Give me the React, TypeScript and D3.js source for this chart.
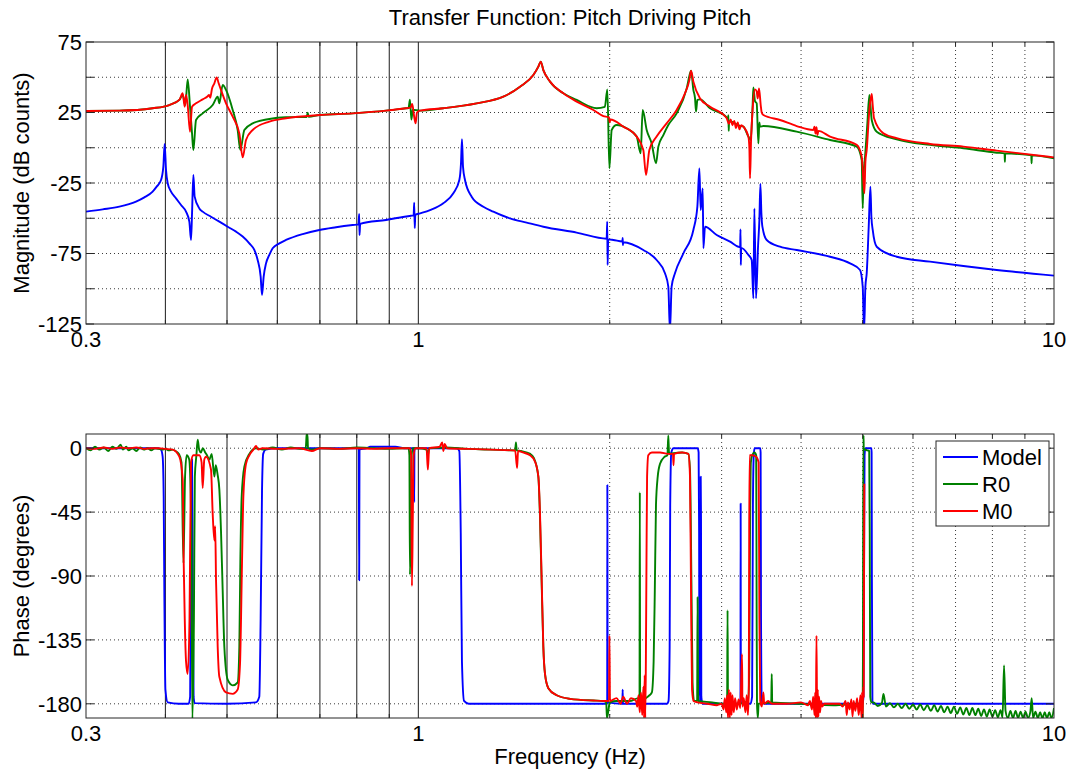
import React from 'react';
import * as d3 from 'd3';

type Pt = [number, number];

const FONT = "'Liberation Sans', Arial, Helvetica, sans-serif";
const W = 1072;
const H = 774;

const TITLE = 'Transfer Function: Pitch Driving Pitch';
const FREQ_DOMAIN: [number, number] = [0.3, 10];
const freqLabels = [0.3, 1, 10];
const solidFreqLines = [0.4, 0.5, 0.6, 0.7, 0.8, 0.9, 1];
const dottedFreqLines = [2, 3, 4, 5, 6, 7, 8, 9];
const minorFreqTicks = [0.4, 0.5, 0.6, 0.7, 0.8, 0.9, 2, 3, 4, 5, 6, 7, 8, 9];

const MAG_DOMAIN: [number, number] = [-125, 75];
const magLabels = [75, 25, -25, -75, -125];
const magGrid = [50, 25, 0, -25, -50, -75, -100];

const PHASE_DOMAIN: [number, number] = [-190, 10];
const phaseLabels = [0, -45, -90, -135, -180];
const phaseGrid = [0, -45, -90, -135, -180];

const seriesNames = ['Model', 'R0', 'M0'];
const seriesColors = ['#0000ff', '#008000', '#ff0000'];

// Magnitude, [Hz, dB counts]
const modelMag: Pt[] = [
  [0.3, -45.3], [0.3187, -43.7], [0.3385, -41.8], [0.3596, -38.2], [0.3706, -35.2], [0.3819, -31.1],
  [0.3875, -27.6], [0.3937, -22.9], [0.397, -13.4], [0.3989, 2.7], [0.4009, -15.8], [0.4033, -25.2],
  [0.4082, -31.1], [0.4157, -35.9], [0.4233, -40.6], [0.431, -45.3], [0.4362, -52.4], [0.4389, -65.4],
  [0.4405, -46.5], [0.4426, -19.3], [0.4447, -34.7], [0.4523, -43], [0.4578, -45.3], [0.4718, -48.9],
  [0.4863, -52.4], [0.5012, -56], [0.5166, -59.5], [0.5292, -63], [0.5421, -67.8], [0.552, -72.5],
  [0.5587, -79.6], [0.5648, -91.4], [0.5676, -104.4], [0.571, -91.4], [0.5759, -82], [0.5828, -76],
  [0.5899, -71.3], [0.6044, -67.8], [0.6191, -65.4], [0.6577, -61.2], [0.6986, -58.3], [0.7421, -56.4],
  [0.7882, -54.8], [0.805, -54.3], [0.807, -47], [0.808, -62], [0.81, -54], [0.8894, -51.2],
  [0.9736, -48.2], [0.983, -48], [0.985, -39], [0.987, -57], [0.989, -47.5], [1.006, -46.5],
  [1.043, -44.2], [1.0946, -39.4], [1.1351, -32.3], [1.16, -22.9], [1.167, -11], [1.1712, 6],
  [1.1755, -13.4], [1.184, -22.9], [1.2129, -34.7], [1.2654, -41.8], [1.3121, -45.3], [1.3937, -50.1],
  [1.4805, -53.1], [1.5726, -56], [1.7744, -60.2], [1.978, -64.5], [1.982, -52.4], [1.985, -83.2],
  [1.989, -65], [2.0265, -65.4], [2.094, -66.5], [2.096, -64], [2.098, -69], [2.1, -67], [2.259, -72.5],
  [2.3705, -79.6], [2.4433, -89], [2.4729, -98.5], [2.4878, -130], [2.5028, -98.5], [2.5333, -89],
  [2.6112, -75], [2.708, -58.3], [2.7475, -41.8], [2.7675, -14.6], [2.7809, -44.2], [2.8011, -28.8],
  [2.8079, -71.3], [2.8248, -56], [2.9469, -61.9], [3.0927, -66.6], [3.1873, -70.2], [3.208, -70.5],
  [3.212, -57.9], [3.216, -83.2], [3.22, -71], [3.3052, -76], [3.3451, -79.6], [3.3655, -106.8],
  [3.3776, -43], [3.398, -106.8], [3.4227, -70.2], [3.4394, -51.2], [3.4521, -25.7], [3.4647, -46.5],
  [3.4772, -56], [3.5319, -65.4], [3.7066, -70.2], [3.9373, -72.5], [4.443, -77.3], [4.777, -82],
  [4.953, -86.7], [5.0012, -98.5], [5.0253, -130], [5.0497, -98.5], [5.0742, -89], [5.111, -56],
  [5.142, -27.6], [5.1607, -48.9], [5.1858, -58.3], [5.2613, -70.2], [5.6566, -77.3], [6.3824, -80.8],
  [7.2013, -83.9], [8.1254, -86.7], [10, -90.7],
];

const r0Mag: Pt[] = [
  [0.3, 26.1], [0.3385, 26.3], [0.3819, 28], [0.4057, 30.3], [0.4207, 33.9], [0.4258, 37.4],
  [0.4299, 30.3], [0.4336, 48.5], [0.4373, 29.1], [0.4405, 10], [0.4426, -1.6], [0.4469, 19.7],
  [0.4578, 24.4], [0.4747, 30.3], [0.4834, 36.2], [0.4863, 31.5], [0.4922, 44.5], [0.4982, 41],
  [0.5104, 26.8], [0.5197, 12.6], [0.5247, -1.6], [0.5324, 12.6], [0.5487, 17.3], [0.5828, 20.4],
  [0.6191, 21.6], [0.6673, 21.8], [0.6697, 24.8], [0.672, 22], [0.6986, 23.2], [0.7882, 24.4],
  [0.8894, 26.3], [0.9561, 28], [0.965, 28.2], [0.97, 34], [0.975, 20], [0.98, 27], [1.006, 26.3],
  [1.0946, 28], [1.2351, 31.5], [1.3605, 36.2], [1.4452, 43.3], [1.5167, 51.6], [1.5444, 57.5],
  [1.5575, 61.1], [1.5726, 55.1], [1.6111, 46.9], [1.6908, 38.6], [1.7744, 33.9], [1.9077, 28],
  [1.965, 29], [1.983, 41.4], [1.9975, -14.6], [2.0144, 12.6], [2.0512, 16.1], [2.1268, 13.8],
  [2.2052, 7.9], [2.2374, -4], [2.2536, 26.8], [2.2866, 12.6], [2.3283, 3.1], [2.3653, -11],
  [2.3854, 0.8], [2.4289, 9], [2.4729, 16.1], [2.5489, 24.4], [2.6434, 42.1], [2.6755, 52.8],
  [2.6853, 54.6], [2.708, 41], [2.7244, 35], [2.7343, 25.6], [2.7475, 33.9], [2.7742, 34.3],
  [2.8764, 28], [3.0555, 21.6], [3.07, 20], [3.074, 23], [3.078, 12], [3.082, 19], [3.2061, 15.5],
  [3.2458, 15], [3.3052, 7.9], [3.3333, 5.5], [3.3492, 20], [3.3573, 31.5], [3.3655, 42.8],
  [3.3856, 33], [3.4062, 31.5], [3.4268, 3.1], [3.4394, 18], [3.4477, 15], [3.4895, 15.4],
  [3.9373, 11.4], [4.443, 5.5], [4.8936, 0.8], [4.983, -8.7], [5.0012, -43], [5.015, -20],
  [5.0436, -6.3], [5.0862, 17.3], [5.1233, 37.4], [5.167, 19.7], [5.2613, 11.4], [5.6566, 6],
  [6.3824, 2], [7.2013, -0.4], [8.1254, -3.5], [8.36, -4], [8.37, -10], [8.38, -4], [9.1693, -5.2],
  [9.21, -5.3], [9.22, -11], [9.23, -5.4], [10, -7.5],
];

const m0Mag: Pt[] = [
  [0.3, 26.1], [0.3385, 26.3], [0.3819, 28], [0.4057, 30.3], [0.4207, 33.9], [0.4258, 38.6],
  [0.4289, 29.1], [0.431, 37.4], [0.4336, 30.3], [0.4373, 11.4], [0.4405, 29.1], [0.4469, 31.5],
  [0.4578, 34.3], [0.4662, 36.5], [0.4685, 37.5], [0.4705, 35.5], [0.4736, 42.1], [0.4776, 45.7],
  [0.4816, 49.9], [0.4851, 45.7], [0.4892, 41], [0.4982, 31.5], [0.5104, 22], [0.5228, 10.2],
  [0.5292, -6.8], [0.5356, 5.5], [0.5487, 12.6], [0.5828, 18.5], [0.6191, 20.9], [0.6986, 23.2],
  [0.7882, 24.4], [0.8894, 26.3], [0.9561, 28], [0.972, 28.5], [0.978, 31], [0.985, 22], [0.99, 17.3],
  [0.995, 25], [1.006, 26.3], [1.0946, 28], [1.2351, 31.5], [1.3605, 36.2], [1.4452, 43.3],
  [1.5167, 51.6], [1.5444, 57.5], [1.5575, 61.1], [1.5726, 55.1], [1.6111, 46.9], [1.6908, 38.6],
  [1.7744, 32.7], [1.8849, 26.8], [1.9546, 22.5], [1.995, 21.5], [2.0, 18], [2.005, 20], [2.1013, 15],
  [2.2052, 7.9], [2.259, -1.6], [2.2811, -19.3], [2.3088, -1.6], [2.3705, 7.9], [2.4581, 17.3],
  [2.5489, 26.8], [2.6269, 38.6], [2.669, 48], [2.6853, 54.6], [2.708, 46.9], [2.7742, 35],
  [2.8764, 29.1], [3.0555, 20.9], [3.08, 17], [3.1, 20], [3.12, 16], [3.14, 19], [3.16, 14], [3.18, 18],
  [3.2, 13], [3.22, 16], [3.246, 15], [3.3052, 7.9], [3.3169, 0], [3.325, -21.7], [3.3371, 5],
  [3.3573, 28], [3.3856, 41.4], [3.4062, 40], [3.4186, 35], [3.4354, 42.1], [3.4561, 30.3],
  [3.4685, 25], [3.4895, 23.2], [3.7066, 19.7], [3.9373, 15.4], [4.1826, 12.6], [4.2, 15],
  [4.215, 10], [4.23, 14.5], [4.245, 9], [4.26, 12], [4.443, 7.9], [4.8936, 2], [4.983, -6.3],
  [5.0012, -15], [5.0315, -32.3], [5.0497, -10], [5.0742, -1.6], [5.1233, 26.8], [5.167, 38.1],
  [5.1858, 30], [5.2109, 20.9], [5.3899, 10.2], [5.6566, 6.8], [6.3824, 2.7], [7.2013, 0.8],
  [8.1254, -2], [10, -6.8],
];

// Phase, [Hz, degrees]
const modelPhase: Pt[] = [
  [0.3, 0], [0.39, 0], [0.3937, -1], [0.396, -6], [0.3975, -34], [0.3985, -105], [0.4, -170],
  [0.4033, -179], [0.42, -180], [0.435, -180], [0.4375, -175], [0.4385, -90], [0.4395, -8],
  [0.4405, -8], [0.4415, -90], [0.443, -175], [0.4447, -179.5], [0.5, -180], [0.555, -179],
  [0.562, -175], [0.5648, -120], [0.5676, -30], [0.57, -4], [0.575, -1], [0.6, 0], [0.806, 0],
  [0.807, -93], [0.808, -1], [0.83, 0], [0.84, 1], [0.92, 1], [0.95, 0], [0.984, 0], [0.985, -38],
  [0.986, 0], [1.15, 0], [1.16, -2], [1.166, -60], [1.171, -150], [1.18, -178], [1.2, -180],
  [1.98, -180], [1.982, -179], [1.983, -26], [1.985, -179], [2.094, -180], [2.096, -170],
  [2.098, -180], [2.46, -180], [2.475, -178], [2.485, -140], [2.49, -40], [2.5, -3], [2.52, 0],
  [2.75, 0], [2.76, -3], [2.765, -60], [2.768, -160], [2.775, -178], [2.779, -120], [2.781, -20],
  [2.784, -50], [2.787, -175], [2.8, -180], [3.21, -180], [3.212, -179], [3.214, -39], [3.216, -179],
  [3.33, -180], [3.35, -175], [3.36, -40], [3.37, -5], [3.38, 0], [3.45, 0], [3.455, -3],
  [3.46, -120], [3.47, -178], [3.5, -180], [5.0, -180], [5.015, -175], [5.025, -90], [5.035, -5],
  [5.05, 0], [5.16, 0], [5.165, -3], [5.17, -90], [5.18, -178], [5.2, -180], [10, -180],
];

const r0Phase: Pt[] = [
  [0.3, 0], [0.305, -1.5], [0.31, 1], [0.315, -1], [0.32, 0.5], [0.325, -2], [0.33, 1], [0.335, -0.5],
  [0.34, 2.5], [0.343, -1], [0.347, 1], [0.35, -1.5], [0.355, 0], [0.36, -2], [0.365, 0.5], [0.37, -1],
  [0.375, 0], [0.38, -1.5], [0.385, 0], [0.39, -0.5], [0.395, -1], [0.4, -0.5], [0.405, -1.5],
  [0.41, -1], [0.415, -2], [0.42, -4], [0.424, -10], [0.427, -81], [0.4295, -20], [0.432, -5],
  [0.436, -8], [0.4395, -60], [0.441, -192], [0.4435, -120], [0.445, -20], [0.4475, -5], [0.4496, 6],
  [0.452, -1], [0.455, -3], [0.458, 0], [0.462, -3], [0.465, -5], [0.469, -8], [0.473, -4],
  [0.4776, -20], [0.48, -12], [0.4834, -19], [0.4863, -29], [0.4892, -58], [0.4922, -100],
  [0.4952, -140], [0.5012, -163], [0.5104, -167], [0.5197, -165], [0.5228, -140], [0.5247, -81],
  [0.5273, -34], [0.5324, -13], [0.5421, -4], [0.5553, 0], [0.57, -1], [0.59, 0.5], [0.61, -1],
  [0.63, 0.5], [0.65, -0.5], [0.665, 0], [0.6673, 9.5], [0.669, 10], [0.6705, 0], [0.68, -1],
  [0.7, 0], [0.75, -0.5], [0.8, 0.5], [0.85, 0], [0.9, -0.5], [0.95, 0], [0.965, 0], [0.968, -5],
  [0.97, -89], [0.973, -60], [0.976, -5], [0.98, 0], [1.0, 0], [1.03, -1], [1.035, -5], [1.04, 0],
  [1.1, 0.5], [1.2, -0.5], [1.3, -1], [1.42, -1.5], [1.424, 4], [1.428, -1.5], [1.45, -2], [1.5, -4],
  [1.52, -7], [1.5444, -20], [1.553, -46], [1.5626, -93], [1.5726, -140], [1.582, -159],
  [1.6013, -169], [1.6505, -174], [1.7321, -176.5], [1.885, -177.7], [1.955, -178], [1.975, -179],
  [1.98, -190], [1.99, -185], [2.0, -179], [2.05, -178], [2.15, -178], [2.22, -176], [2.228, -178],
  [2.2305, -31], [2.233, -178], [2.28, -176], [2.31, -174], [2.33, -172], [2.345, -150],
  [2.355, -100], [2.365, -40], [2.38, -20], [2.4, -11], [2.44, -6], [2.465, -5], [2.4729, 9],
  [2.48, -4], [2.518, -3.5], [2.6, -3], [2.66, -4], [2.675, -15], [2.69, -100], [2.7, -165],
  [2.715, -178], [2.745, -178], [2.75, -105], [2.755, -178], [2.9, -179], [3.0, -180], [3.06, -180],
  [3.065, -114], [3.07, -180], [3.2, -180], [3.3, -178], [3.315, -160], [3.325, -60], [3.335, -10],
  [3.35, -5], [3.38, -3], [3.4, -5], [3.405, -100], [3.41, -180], [3.42, -190], [3.43, -180],
  [3.59, -179], [3.597, -159], [3.603, -179], [4.0, -180], [4.5, -181], [4.95, -180], [4.99, -185],
  [5.0, -190], [5.005, -150], [5.01, -40], [5.015, 9], [5.02, 0], [5.05, -1], [5.12, -2], [5.13, -60],
  [5.14, -175], [5.16, -179], [5.2, -179], [5.28, -181.5], [5.36, -179.5], [5.392, -173],
  [5.44, -182], [5.52, -179.5], [5.6, -182.5], [5.68, -180], [5.76, -183], [5.84, -180],
  [5.92, -183.5], [6.0, -180.5], [6.08, -184], [6.16, -180.5], [6.24, -184.5], [6.32, -181],
  [6.4, -185], [6.48, -181], [6.56, -185.5], [6.64, -181.5], [6.72, -186], [6.8, -182],
  [6.88, -186.5], [6.96, -182], [7.04, -187], [7.12, -182.5], [7.2, -187.5], [7.28, -183],
  [7.36, -188], [7.44, -183], [7.52, -188], [7.6, -183.5], [7.68, -188.5], [7.76, -184],
  [7.84, -189], [7.92, -184], [8.0, -189], [8.08, -184.5], [8.16, -189.5], [8.24, -184.5],
  [8.3, -189.5], [8.344, -153], [8.39, -185], [8.46, -190], [8.54, -185], [8.62, -190], [8.7, -185],
  [8.78, -190], [8.86, -185.5], [8.94, -190], [9.02, -185.5], [9.1, -190], [9.18, -185.5],
  [9.224, -176], [9.27, -190], [9.35, -185.5], [9.43, -190], [9.51, -186], [9.59, -190], [9.67, -186],
  [9.75, -190], [9.83, -186], [9.91, -190], [10, -183],
];

const m0Phase: Pt[] = [
  [0.3, 0], [0.31, -0.5], [0.32, 0.5], [0.33, -0.5], [0.34, 0.5], [0.35, 0], [0.36, 0.5], [0.37, -0.5],
  [0.38, 0], [0.39, 0], [0.4, -0.5], [0.4107, -1], [0.4207, -6], [0.4258, -22], [0.4274, -81],
  [0.429, -120], [0.431, -150], [0.4336, -159], [0.4365, -120], [0.4389, -10], [0.4426, -5],
  [0.4523, -5], [0.456, -10], [0.4578, -28], [0.4605, -8], [0.4634, -6], [0.4718, -15], [0.4747, -46],
  [0.4776, -65], [0.479, -55], [0.4805, -93], [0.4834, -140], [0.4863, -161], [0.4982, -172],
  [0.5104, -173], [0.5197, -170], [0.5241, -152], [0.5279, -81], [0.5305, -34], [0.5356, -11],
  [0.5421, -5], [0.55, -1], [0.5553, 1.5], [0.56, -1], [0.5683, 0], [0.6, -0.5], [0.65, 0], [0.68, -2],
  [0.7, 0], [0.75, -0.5], [0.8, 0], [0.85, -0.5], [0.9, 0], [0.95, 0], [0.97, 0], [0.974, -5],
  [0.977, -97], [0.98, -50], [0.983, -5], [0.99, 0], [1.03, 0], [1.035, -15], [1.04, 0], [1.08, 1],
  [1.09, 4], [1.095, -2], [1.1, 3], [1.11, 0], [1.2, -0.5], [1.3, -1], [1.42, -1.6], [1.43, -14],
  [1.435, -2], [1.46, -3], [1.4985, -5], [1.5258, -9.4], [1.5444, -20], [1.5537, -46], [1.5632, -93],
  [1.5726, -140], [1.5821, -159], [1.6013, -169], [1.6505, -174], [1.7321, -176.5], [1.885, -177.7],
  [1.96, -178], [1.995, -178], [1.998, -132], [2.002, -178], [2.05, -176], [2.08, -180], [2.1, -175],
  [2.13, -180], [2.16, -176], [2.2, -178], [2.21, -182], [2.22, -174], [2.23, -186], [2.24, -172],
  [2.25, -188], [2.26, -168], [2.265, -190], [2.27, -160], [2.275, -190], [2.28, -150], [2.285, -80],
  [2.29, -20], [2.3, -5], [2.33, -3], [2.4, -3], [2.47, -4], [2.515, -4], [2.52, -12], [2.525, -4],
  [2.6, -3], [2.66, -4], [2.675, -20], [2.685, -100], [2.695, -170], [2.71, -178], [2.75, -179],
  [2.85, -180], [2.95, -181], [3.0, -180], [3.02, -184], [3.035, -176], [3.05, -186], [3.06, -174],
  [3.07, -190], [3.08, -170], [3.09, -190], [3.1, -172], [3.11, -188], [3.12, -174], [3.135, -186],
  [3.15, -176], [3.17, -184], [3.19, -177], [3.21, -183], [3.23, -145], [3.235, -182], [3.25, -176],
  [3.27, -186], [3.285, -174], [3.3, -188], [3.31, -170], [3.315, -60], [3.32, -5], [3.35, -5],
  [3.4, -6], [3.43, -10], [3.44, -120], [3.45, -178], [3.47, -182], [3.49, -172], [3.5, -180],
  [3.55, -178], [3.6, -180], [3.8, -180], [4.0, -179], [4.1, -181], [4.13, -178], [4.16, -184],
  [4.18, -175], [4.2, -188], [4.21, -172], [4.22, -190], [4.23, -132], [4.24, -190], [4.25, -170],
  [4.26, -189], [4.27, -175], [4.285, -186], [4.3, -178], [4.32, -182], [4.35, -180], [4.5, -180],
  [4.6, -180], [4.65, -182], [4.7, -178], [4.72, -188], [4.74, -179], [4.77, -184], [4.8, -177],
  [4.82, -189], [4.84, -178], [4.87, -185], [4.9, -176], [4.93, -188], [4.96, -174], [4.98, -190],
  [4.99, -172], [5.0, -190], [5.01, -168], [5.02, -175], [5.03, -25],
];

const PLOT_LEFT = 86;
const PLOT_RIGHT = 1054;

const x = d3.scaleLog().domain(FREQ_DOMAIN).range([PLOT_LEFT, PLOT_RIGHT]);

const fmtFreq = (f: number) => (f < 1 ? f.toFixed(1) : String(f));

interface PanelProps {
  id: string;
  top: number;
  bottom: number;
  domain: [number, number];
  grid: number[];
  labels: number[];
  ylabel: string;
  series: Pt[][];
  xlabel?: string;
  legend?: boolean;
}

function Panel({ id, top, bottom, domain, grid, labels, ylabel, series, xlabel, legend }: PanelProps) {
  const y = d3.scaleLinear().domain(domain).range([bottom, top]);
  const line = d3
    .line<Pt>()
    .x((d) => x(d[0]))
    .y((d) => y(d[1]))
    .curve(d3.curveMonotoneX);
  const allTicks = Array.from(new Set([...labels, ...grid]));
  const axisColor = '#262626';
  const gridColor = '#3a3a3a';
  return (
    <g>
      <defs>
        <clipPath id={id}>
          <rect x={PLOT_LEFT} y={top} width={PLOT_RIGHT - PLOT_LEFT} height={bottom - top} />
        </clipPath>
      </defs>
      <rect x={PLOT_LEFT} y={top} width={PLOT_RIGHT - PLOT_LEFT} height={bottom - top} fill="#fff" />
      {/* horizontal dotted grid */}
      {grid.map((v) => (
        <line
          key={'h' + v}
          x1={PLOT_LEFT}
          x2={PLOT_RIGHT}
          y1={y(v)}
          y2={y(v)}
          stroke={gridColor}
          strokeWidth={1}
          strokeDasharray="1,3"
        />
      ))}
      {/* vertical grid */}
      {dottedFreqLines.map((f) => (
        <line
          key={'vd' + f}
          x1={x(f)}
          x2={x(f)}
          y1={top}
          y2={bottom}
          stroke={gridColor}
          strokeWidth={1}
          strokeDasharray="1,3"
        />
      ))}
      {solidFreqLines.map((f) => (
        <line key={'vs' + f} x1={x(f)} x2={x(f)} y1={top} y2={bottom} stroke="#303030" strokeWidth={1.1} />
      ))}
      {/* data */}
      <g clipPath={`url(#${id})`}>
        {series.map((s, i) => (
          <path
            key={i}
            d={line(s) || ''}
            fill="none"
            stroke={seriesColors[i]}
            strokeWidth={1.9}
            strokeLinejoin="round"
          />
        ))}
      </g>
      {/* axes box and ticks */}
      <rect
        x={PLOT_LEFT}
        y={top}
        width={PLOT_RIGHT - PLOT_LEFT}
        height={bottom - top}
        fill="none"
        stroke={axisColor}
        strokeWidth={1}
      />
      {allTicks.map((v) => (
        <g key={'yt' + v}>
          <line x1={PLOT_LEFT} x2={PLOT_LEFT + 8} y1={y(v)} y2={y(v)} stroke={axisColor} />
          <line x1={PLOT_RIGHT - 8} x2={PLOT_RIGHT} y1={y(v)} y2={y(v)} stroke={axisColor} />
        </g>
      ))}
      {minorFreqTicks.map((f) => (
        <g key={'xt' + f}>
          <line x1={x(f)} x2={x(f)} y1={bottom} y2={bottom - 4} stroke={axisColor} />
          <line x1={x(f)} x2={x(f)} y1={top} y2={top + 4} stroke={axisColor} />
        </g>
      ))}
      {labels.map((v) => (
        <text
          key={'yl' + v}
          x={PLOT_LEFT - 4}
          y={y(v)}
          dy="0.36em"
          textAnchor="end"
          fontFamily={FONT}
          fontSize={22}
          fill="#000"
        >
          {v}
        </text>
      ))}
      {freqLabels.map((f) => (
        <text
          key={'xl' + f}
          x={x(f)}
          y={bottom + 23}
          textAnchor="middle"
          fontFamily={FONT}
          fontSize={22}
          fill="#000"
        >
          {fmtFreq(f)}
        </text>
      ))}
      <text
        transform={`translate(29,${(top + bottom) / 2}) rotate(-90)`}
        textAnchor="middle"
        fontFamily={FONT}
        fontSize={22}
        fill="#000"
      >
        {ylabel}
      </text>
      {xlabel && (
        <text x={(PLOT_LEFT + PLOT_RIGHT) / 2} y={bottom + 46} textAnchor="middle" fontFamily={FONT} fontSize={22} fill="#000">
          {xlabel}
        </text>
      )}
      {legend && (
        <g>
          <rect x={936} y={441} width={113} height={85} fill="#fff" stroke={axisColor} strokeWidth={1} />
          {seriesNames.map((name, i) => {
            const ly = 457 + i * 27;
            return (
              <g key={name}>
                <line x1={943} x2={978} y1={ly} y2={ly} stroke={seriesColors[i]} strokeWidth={1.9} />
                <text x={982} y={ly} dy="0.36em" fontFamily={FONT} fontSize={22} fill="#000">
                  {name}
                </text>
              </g>
            );
          })}
        </g>
      )}
    </g>
  );
}

export default function App() {
  return (
    <svg
      width={W}
      height={H}
      viewBox={`0 0 ${W} ${H}`}
      style={{ position: 'absolute', left: 0, top: 0, background: '#fff' }}
    >
      <rect x={0} y={0} width={W} height={H} fill="#fff" />
      <text x={570} y={25} textAnchor="middle" fontFamily={FONT} fontSize={22} fill="#000">
        {TITLE}
      </text>
      <Panel
        id="clip-mag"
        top={42}
        bottom={324}
        domain={MAG_DOMAIN}
        grid={magGrid}
        labels={magLabels}
        ylabel="Magnitude (dB counts)"
        series={[modelMag, r0Mag, m0Mag]}
      />
      <Panel
        id="clip-phase"
        top={434}
        bottom={718}
        domain={PHASE_DOMAIN}
        grid={phaseGrid}
        labels={phaseLabels}
        ylabel="Phase (degrees)"
        series={[modelPhase, r0Phase, m0Phase]}
        xlabel="Frequency (Hz)"
        legend
      />
    </svg>
  );
}
